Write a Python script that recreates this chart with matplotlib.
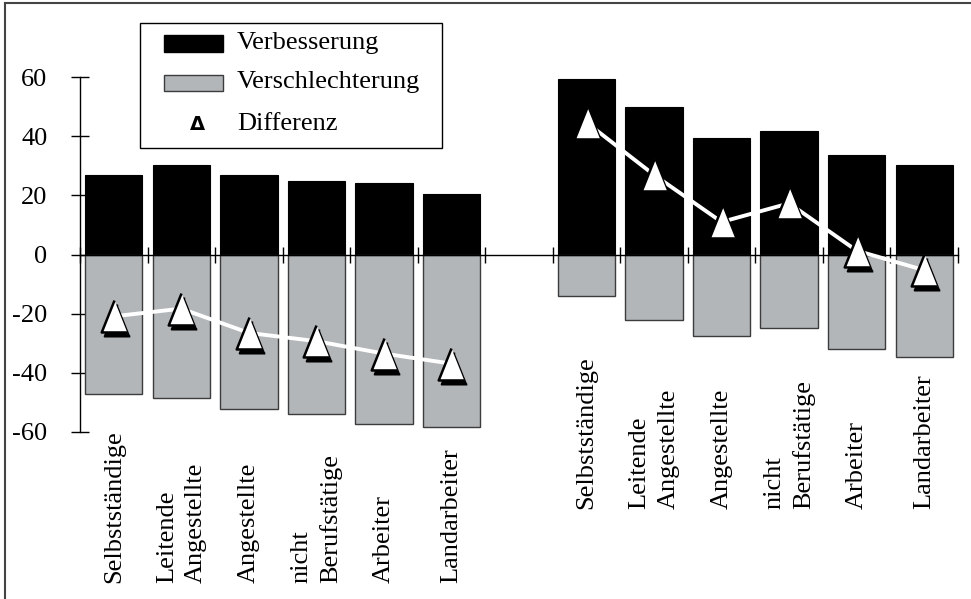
import numpy as np
import matplotlib
matplotlib.use("Agg")
import matplotlib.pyplot as plt
from matplotlib.patches import Rectangle
from matplotlib.lines import Line2D
from matplotlib import transforms

plt.rcParams['font.family'] = ['Liberation Serif', 'DejaVu Serif']
plt.rcParams['font.size'] = 19

# Daten
labels = ["Selbstständige", "Leitende\nAngestellte", "Angestellte",
          "nicht\nBerufstätige", "Arbeiter", "Landarbeiter"]

verb_links = [26.8, 30.3, 26.8, 25.0, 24.1, 20.6]
versch_links = [-47.0, -48.6, -52.2, -53.9, -57.4, -58.3]
diff_links = [-20.9, -18.3, -26.5, -29.3, -33.5, -36.9]

verb_rechts = [59.4, 49.7, 39.3, 41.8, 33.8, 30.3]
versch_rechts = [-14.1, -22.1, -27.5, -24.8, -31.8, -34.6]
diff_rechts = [44.6, 26.9, 11.0, 17.3, 1.3, -5.3]

y_ticks = [-60, -40, -20, 0, 20, 40, 60]
legende = ["Verbesserung", "Verschlechterung", "Differenz"]

x_links = np.arange(6)
x_rechts = np.arange(7, 13)

grau = '#b3b6b9'

W, H = 971, 599
fig = plt.figure(figsize=(W/100, H/100), dpi=100)
ax = fig.add_axes([80/W, 1-432/H, 878/W, 355/H])

for xs, v, s in [(x_links, verb_links, versch_links),
                 (x_rechts, verb_rechts, versch_rechts)]:
    ax.bar(xs, v, width=0.85, color='black', edgecolor='black', lw=0.8, zorder=2)
    ax.bar(xs, s, width=0.85, color=grau, edgecolor='#3c3c3c', lw=1.0, zorder=2)

# Dreiecke mit Schatten
tri = [(0, 1), (-0.8, -1), (0.8, -1)]
schatten = transforms.offset_copy(ax.transData, fig=fig, x=3, y=-4, units='dots')
for xs, d in [(x_links, diff_links), (x_rechts, diff_rechts)]:
    ax.plot(xs, d, color='white', lw=2.8, zorder=4, solid_capstyle='round')
    ax.plot(xs, d, ls='none', marker=tri, ms=23, color='black', mec='black',
            mew=1.5, transform=schatten, zorder=5)
    ax.plot(xs, d, ls='none', marker=tri, ms=23, color='white', mec='black',
            mew=1.8, zorder=6)

ax.set_xlim(-0.5, 12.5)
ax.set_ylim(-60, 60)
ax.spines['top'].set_visible(False)
ax.spines['right'].set_visible(False)
ax.spines['bottom'].set_position(('data', 0))
ax.spines['bottom'].set_zorder(3)
ax.spines['left'].set_linewidth(1.0)
ax.spines['bottom'].set_linewidth(1.0)

ax.set_xticks(np.arange(-0.5, 13, 1))
ax.set_xticklabels([])
ax.tick_params(axis='x', direction='inout', length=11, width=1)
ax.set_yticks(y_ticks)
ax.set_yticklabels([str(t) for t in y_ticks])
ax.tick_params(axis='y', direction='inout', length=13, width=1, pad=17)

# Kategorien
for xs, yb in [(x_links, -110.9), (x_rechts, -85.9)]:
    for x, lab in zip(xs, labels):
        ax.text(x, yb, lab, rotation=90, ha='center', va='bottom',
                multialignment='left', clip_on=False, linespacing=1.4)

# Legende von Hand (Pixelkoordinaten)
def fx(px):
    return px / W

def fy(py):
    return 1 - py / H

fig.add_artist(Rectangle((fx(140), fy(148)), fx(442) - fx(140), fy(23) - fy(148),
                         transform=fig.transFigure, fill=True, facecolor='white',
                         edgecolor='black', lw=1.0, zorder=10))
fig.add_artist(Rectangle((fx(164), fy(52)), fx(223) - fx(164), fy(35) - fy(52),
                         transform=fig.transFigure, facecolor='black',
                         edgecolor='black', lw=1.0, zorder=11))
fig.add_artist(Rectangle((fx(164), fy(91)), fx(223) - fx(164), fy(75) - fy(91),
                         transform=fig.transFigure, facecolor=grau,
                         edgecolor='#3c3c3c', lw=1.0, zorder=11))
fig.text(fx(197), fy(124), '\u0394', family='DejaVu Sans', weight='bold',
         fontsize=14, ha='center', va='center', zorder=11)
for py, txt in zip([43, 82, 124], legende):
    fig.text(fx(237), fy(py), txt, ha='left', va='center', zorder=11)

# Rahmen links und oben
fig.add_artist(Line2D([fx(5), fx(5)], [0, fy(3)], color='#444444', lw=1.5,
                      transform=fig.transFigure))
fig.add_artist(Line2D([fx(5), 1], [fy(3), fy(3)], color='#444444', lw=1.5,
                      transform=fig.transFigure))

fig.savefig('out.png', dpi=100)
